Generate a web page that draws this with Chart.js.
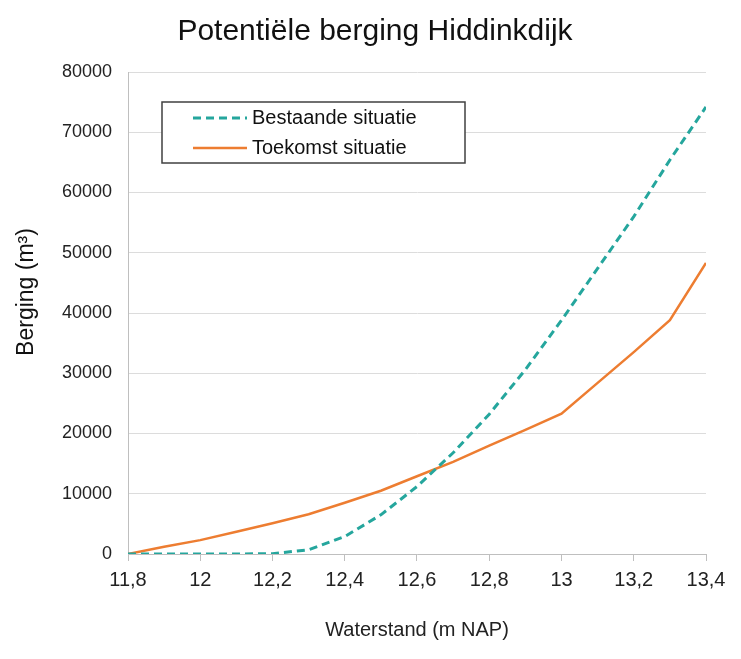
<!DOCTYPE html>
<html>
<head>
<meta charset="utf-8">
<script src="https://cdn.jsdelivr.net/npm/chart.js@4"></script>
<style>
  html, body { margin: 0; padding: 0; background: #fff; }
  #wrap { width: 741px; height: 659px; }
</style>
</head>
<body>
<div id="wrap"><canvas id="chart" width="741" height="659"></canvas></div>
<script>
// Potentiële berging Hiddinkdijk - waterstand vs berging
const waterstand = [11.8, 11.9, 12.0, 12.1, 12.2, 12.3, 12.4, 12.5, 12.6, 12.7, 12.8, 12.9, 13.0, 13.1, 13.2, 13.3, 13.4];
const bestaande  = [0, 0, 0, 0, 50, 700, 2900, 6500, 11200, 16800, 23200, 30600, 38800, 47400, 56000, 65400, 74200];
const toekomst   = [0, 1200, 2300, 3700, 5100, 6600, 8500, 10500, 12900, 15300, 18000, 20600, 23300, 28400, 33500, 38800, 48300];
const xTicks = [11.8, 12.0, 12.2, 12.4, 12.6, 12.8, 13.0, 13.2, 13.4];
const yTicks = [0, 10000, 20000, 30000, 40000, 50000, 60000, 70000, 80000];

const FONT = "'Liberation Sans', Arial, sans-serif";

// legende met kader binnen het plotgebied
const boxLegend = {
    id: 'boxLegend',
    afterDraw(chart) {
        const ctx = chart.ctx;
        ctx.save();
        ctx.fillStyle = '#fff';
        ctx.fillRect(162, 102, 303, 61);
        ctx.strokeStyle = '#404040';
        ctx.lineWidth = 1.5;
        ctx.strokeRect(162, 102, 303, 61);
        chart.data.datasets.forEach((ds, i) => {
            const y = 118 + i * 30;
            ctx.beginPath();
            ctx.strokeStyle = ds.borderColor;
            ctx.lineWidth = ds.borderWidth;
            ctx.setLineDash(ds.borderDash || []);
            ctx.moveTo(193, y);
            ctx.lineTo(247, y);
            ctx.stroke();
            ctx.setLineDash([]);
            ctx.fillStyle = '#111';
            ctx.font = '20px ' + FONT;
            ctx.textBaseline = 'middle';
            ctx.fillText(ds.label, 252, y);
        });
        ctx.restore();
    }
};

// y-as titel, iets boven het midden zoals in het origineel
const yTitle = {
    id: 'yTitle',
    afterDraw(chart) {
        const ctx = chart.ctx;
        ctx.save();
        ctx.translate(27, 292);
        ctx.rotate(-Math.PI / 2);
        ctx.fillStyle = '#111';
        ctx.font = '23px ' + FONT;
        ctx.textAlign = 'center';
        ctx.textBaseline = 'middle';
        ctx.fillText('Berging (m³)', 0, 0);
        ctx.restore();
    }
};

new Chart(document.getElementById('chart'), {
    type: 'line',
    data: {
        datasets: [{
            label: 'Bestaande situatie',
            data: waterstand.map((x, i) => ({ x: x, y: bestaande[i] })),
            borderColor: '#25a69d',
            borderWidth: 3,
            borderDash: [8, 5],
            pointRadius: 0,
            tension: 0
        }, {
            label: 'Toekomst situatie',
            data: waterstand.map((x, i) => ({ x: x, y: toekomst[i] })),
            borderColor: '#ed7d31',
            borderWidth: 2.5,
            pointRadius: 0,
            tension: 0
        }]
    },
    options: {
        responsive: false,
        devicePixelRatio: 1,
        animation: false,
        layout: { padding: { left: 44, right: 35, top: 0, bottom: 0 } },
        plugins: {
            legend: { display: false },
            tooltip: { enabled: false },
            title: {
                display: true,
                text: 'Potentiële berging Hiddinkdijk',
                color: '#111',
                font: { family: FONT, size: 30, weight: 'normal' },
                padding: { top: 14, bottom: 22 }
            }
        },
        scales: {
            x: {
                type: 'linear',
                min: 11.8,
                max: 13.4,
                afterBuildTicks: s => { s.ticks = xTicks.map(v => ({ value: v })); },
                afterFit: s => { s.height = 105; },
                ticks: {
                    color: '#222',
                    padding: 7,
                    maxRotation: 0,
                    font: { family: FONT, size: 20 },
                    callback: v => String(Number(v.toFixed(1))).replace('.', ',')
                },
                grid: { drawOnChartArea: false, drawTicks: true, tickLength: 7, color: '#bfbfbf' },
                border: { color: '#bfbfbf' },
                title: {
                    display: true,
                    text: 'Waterstand (m NAP)',
                    color: '#222',
                    font: { family: FONT, size: 20 },
                    padding: { top: 0, bottom: 17 }
                }
            },
            y: {
                min: 0,
                max: 80000,
                afterBuildTicks: s => { s.ticks = yTicks.map(v => ({ value: v })); },
                afterFit: s => { s.width = 84; },
                ticks: {
                    color: '#222',
                    padding: 16,
                    font: { family: FONT, size: 18 },
                    callback: v => String(v)
                },
                grid: { color: '#dcdcdc', drawTicks: false },
                border: { color: '#bfbfbf' }
            }
        }
    },
    plugins: [boxLegend, yTitle]
});
</script>
</body>
</html>
